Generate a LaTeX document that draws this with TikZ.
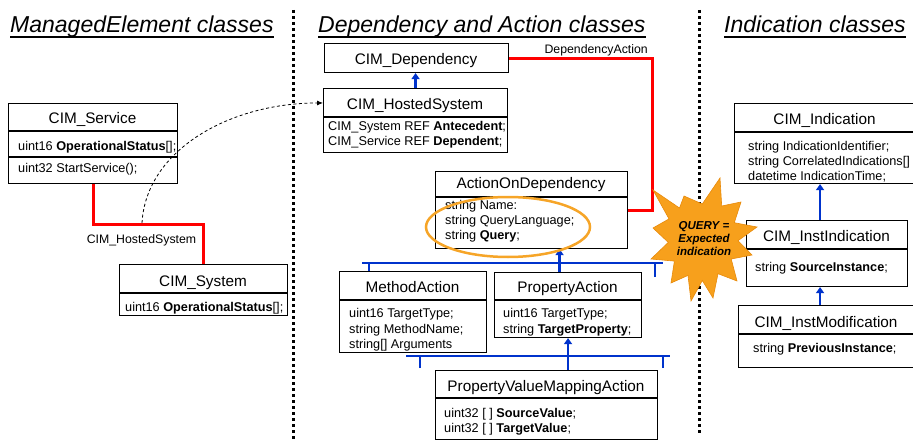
\documentclass[tikz,border=0pt]{standalone}
\usepackage{fontspec}
\setmainfont{Liberation Sans}
\usetikzlibrary{arrows.meta,calc}
\definecolor{clsblue}{RGB}{0,51,204}
\definecolor{burst}{RGB}{247,160,28}
\definecolor{burstline}{RGB}{232,138,10}
\definecolor{ringorange}{RGB}{246,165,40}

\begin{document}
\begin{tikzpicture}[x=1pt,y=-1pt,
    classbox/.style={draw,line width=1.1pt,anchor=north west,inner sep=0pt},
    sepline/.style={line width=1.1pt},
    clsname/.style={font=\fontsize{15.3}{17}\selectfont,anchor=base,inner sep=0pt},
    member/.style={font=\fontsize{12.7}{15}\selectfont,anchor=base west,inner sep=0pt},
    heading/.style={font=\fontsize{23}{26}\selectfont\itshape,anchor=base west,inner sep=0pt},
    assoclabel/.style={font=\fontsize{12.3}{14}\selectfont,anchor=base,inner sep=0pt},
    assoc/.style={red,line width=3pt},
    inherit/.style={clsblue,line width=2.5pt,-{Triangle[length=6pt,width=8pt]}},
    genbar/.style={clsblue,line width=2.5pt},
    divider/.style={line width=3pt,dash pattern=on 3pt off 3pt},
    hosted/.style={line width=0.8pt,dash pattern=on 3pt off 2.5pt,-{Latex[length=6pt,width=5pt]}}]
    \useasboundingbox (0,0) rectangle (913,441);
    \clip (0,0) rectangle (913,441);

    % headings
    \node[heading] (hdme) at (10,33) {ManagedElement classes};
    \node[heading] (hddep) at (318,33) {Dependency and Action classes};
    \node[heading] (hdind) at (724,33) {Indication classes};
    \foreach \h in {hdme,hddep,hdind}
        \draw[line width=1.2pt] ([yshift=-4pt]\h.base west) -- ([yshift=-4pt]\h.base east);

    % dotted separators
    \draw[divider] (293,10) -- (293,440);
    \draw[divider] (699,10) -- (699,433);

    % ManagedElement classes
    \node[classbox,minimum width=169,minimum height=80] (svc) at (8,103) {};
    \draw[sepline,line width=1.8pt] (8,131) -- (177,131);
    \draw[sepline] (8,157) -- (177,157);
    \node[clsname] (svcn) at (92.5,124) {CIM\_Service};
    \node[member] (svca) at (18,150) {uint16 \textbf{OperationalStatus}[];};
    \node[member] (svcm) at (18,172) {uint32 StartService();};

    \node[classbox,minimum width=168,minimum height=51] (sys) at (119,264) {};
    \draw[sepline] (119,293) -- (287,293);
    \node[clsname] (sysn) at (203,286) {CIM\_System};
    \node[member] (sysa) at (125,311) {uint16 \textbf{OperationalStatus}[];};

    % association CIM_HostedSystem
    \draw[assoc] (svc.south) -- ++(0,40) -| (sys.north);
    \coordinate (hsmid) at (142,223);
    \node[assoclabel] (hslbl) at (141.5,243) {CIM\_HostedSystem};

    % Dependency and Action classes
    \node[classbox,minimum width=184,minimum height=29] (dep) at (324,43) {};
    \node[clsname] (depn) at (416,65) {CIM\_Dependency};

    \node[classbox,minimum width=184,minimum height=64] (hs) at (323,88) {};
    \draw[sepline] (323,117) -- (507,117);
    \node[clsname] (hsn) at (415,110) {CIM\_HostedSystem};
    \node[member] (hsa) at (328,131) {CIM\_System REF \textbf{Antecedent};};
    \node[member] (hsb) at (328,146) {CIM\_Service REF \textbf{Dependent};};
    \draw[inherit] (hs.north) -- (hs.north |- dep.south);
    \draw[hosted] (hsmid) .. controls (146,150) and (230,103) .. ($(hs.north west)!0.23!(hs.south west)$);

    \node[classbox,minimum width=192,minimum height=77] (aod) at (435,171) {};
    \draw[sepline] (435,197) -- (627,197);
    \node[clsname] (aodn) at (531,189) {ActionOnDependency};
    \node[member] (aoda) at (445,209) {string Name:};
    \node[member] (aodb) at (445,224) {string QueryLanguage;};
    \node[member] (aodc) at (445,239) {string \textbf{Query};};

    % association DependencyAction
    \draw[assoc] (dep.east) -- ++(143,0) |- (aod.east);
    \node[assoclabel,anchor=base east] (dalbl) at (648,54) {DependencyAction};

    \node[classbox,minimum width=147,minimum height=81] (ma) at (339,271) {};
    \draw[sepline] (339,300) -- (486,300);
    \node[clsname] (man) at (412.5,292) {MethodAction};
    \node[member] (maa) at (349,317) {uint16 TargetType;};
    \node[member] (mab) at (349,333) {string MethodName;};
    \node[member] (mac) at (349,348) {string[] Arguments};

    \node[classbox,minimum width=147,minimum height=65] (pa) at (494,272) {};
    \draw[sepline] (494,300) -- (641,300);
    \node[clsname] (pan) at (567.5,292) {PropertyAction};
    \node[member] (paa) at (503,317) {uint16 TargetType;};
    \node[member] (pab) at (503,333) {string \textbf{TargetProperty};};

    \node[classbox,minimum width=222,minimum height=69] (pv) at (435,370) {};
    \draw[sepline] (435,398) -- (657,398);
    \node[clsname] (pvn) at (546,391) {PropertyValueMappingAction};
    \node[member] (pva) at (444,417) {uint32 [ ] \textbf{SourceValue};};
    \node[member] (pvb) at (444,432) {uint32 [ ] \textbf{TargetValue};};

    % generalisation bars
    \coordinate (bar1w) at (362,263);
    \coordinate (bar1e) at (663,263);
    \coordinate (tick1) at (655,277);
    \draw[genbar] (bar1w) -- (bar1e);
    \draw[genbar] ([xshift=30pt]ma.north west) -- ++(0,-8);
    \draw[genbar] (tick1) -- (tick1 |- bar1e);
    \draw[inherit] ([xshift=-8.5pt]pa.north) -- ([xshift=-8.5pt]pa.north |- aod.south);

    \coordinate (bar2w) at (406,356);
    \coordinate (bar2e) at (670,356);
    \coordinate (tick2) at (420,368);
    \coordinate (tick3) at (663,368);
    \draw[genbar] (bar2w) -- (bar2e);
    \draw[genbar] (tick2) -- (tick2 |- bar2e);
    \draw[genbar] (tick3) -- (tick3 |- bar2e);
    \draw[inherit] (pa.south |- pv.north) -- (pa.south);

    % query ring
    \draw[ringorange,line width=2.5pt] (508,227) ellipse [x radius=82,y radius=30];

    % Indication classes
    \node[classbox,minimum width=182,minimum height=80] (ind) at (734,103) {};
    \draw[sepline] (734,132) -- (916,132);
    \node[clsname] (indn) at (824.5,125) {CIM\_Indication};
    \node[member] (inda) at (748,150) {string IndicationIdentifier;};
    \node[member] (indb) at (748,165) {string CorrelatedIndications[]};
    \node[member] (indc) at (748,180) {datetime IndicationTime;};

    \node[classbox,minimum width=161,minimum height=66] (ii) at (746,220) {};
    \draw[sepline] (746,249) -- (907,249);
    \node[clsname] (iin) at (826.5,241) {CIM\_InstIndication};
    \node[member] (iia) at (755,271) {string \textbf{SourceInstance};};

    \node[classbox,minimum width=180,minimum height=62] (im) at (738,305) {};
    \draw[sepline] (738,334) -- (918,334);
    \node[clsname] (imn) at (826,327) {CIM\_InstModification};
    \node[member] (ima) at (753,352) {string \textbf{PreviousInstance};};

    \draw[inherit] ([xshift=-7pt]ii.north) -- ([xshift=-7pt]ii.north |- ind.south);
    \draw[inherit] ([xshift=-7pt]ii.south |- im.north) -- ([xshift=-7pt]ii.south);

    % starburst
    \filldraw[fill=burst,draw=burstline,line width=0.6pt]
        (720,178) -- (721.7,206) -- (741,202) -- (734.3,222.7) -- (757,227) -- (738,240.7)
        -- (752,255) -- (731.2,259) -- (737,281) -- (718,273.7) -- (713,298) -- (702.3,280.5)
        -- (691,301) -- (688,275.4) -- (671,283) -- (674.4,261.1) -- (651,259) -- (668.3,242.4)
        -- (653,228) -- (669,218.9) -- (653,190) -- (679.5,208) -- (684,196) -- (702.3,204) -- cycle;
    \node[font=\fontsize{11.5}{13}\selectfont\bfseries\itshape,align=center,inner sep=0pt] (query) at (704,239) {QUERY =\\Expected\\indication};
\end{tikzpicture}
\end{document}
